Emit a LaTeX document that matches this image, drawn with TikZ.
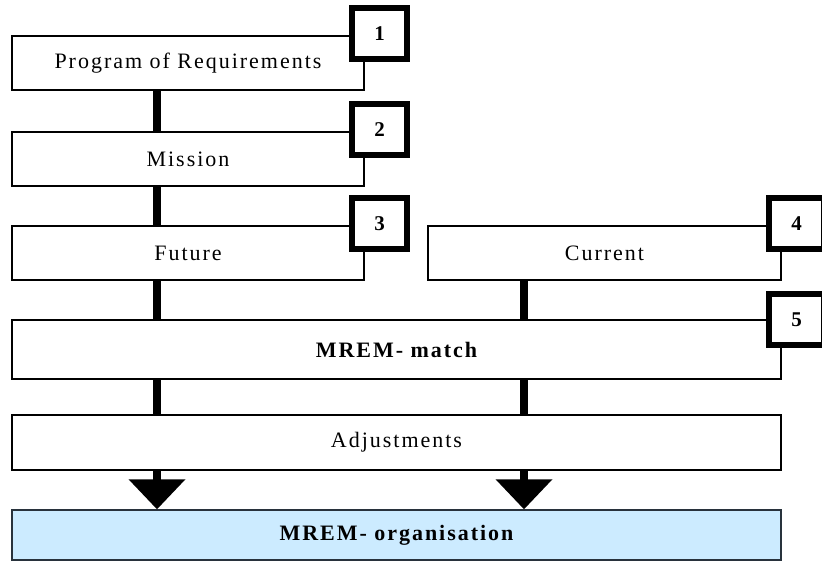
\documentclass[tikz,border=0pt]{standalone}
\usepackage{fontspec}
\setmainfont{Liberation Serif}
\newfontfamily\spaced[LetterSpace=9]{Liberation Serif}
\usetikzlibrary{calc}
\definecolor{orgfill}{RGB}{204,235,255}
\definecolor{orgline}{RGB}{40,50,60}
\begin{document}
\begin{tikzpicture}[x=1pt,y=-1pt,
  box/.style={draw=black, line width=1.5pt, fill=white, inner sep=0pt,
    minimum height=54pt, font=\spaced\fontsize{22}{26}\selectfont},
  boldbox/.style={box, font=\spaced\bfseries\fontsize{22}{26}\selectfont},
  numbox/.style={draw=black, line width=6pt, fill=white, inner sep=0pt,
    minimum width=55pt, minimum height=51pt, font=\bfseries\fontsize{21}{24}\selectfont},
  conn/.style={line width=8pt},
  ]
\path[use as bounding box] (0,0) rectangle (822,561);
\clip (0,0) rectangle (822,561);
\coordinate (xl) at (157,0);
\coordinate (xr) at (524,0);

\node[box, minimum width=352pt] (pr) at (188,63) {Program of Requirements};
\node[box, minimum width=352pt] (mis) at (188,159) {Mission};
\node[box, minimum width=352pt] (fut) at (188,253) {Future};
\node[box, minimum width=353pt] (cur) at (604.5,253) {Current};
\node[boldbox, minimum width=769pt, minimum height=59pt] (match) at (396.5,349.5) {MREM- match};
\node[box, minimum width=769pt, minimum height=55pt] (adj) at (396.5,442.5) {Adjustments};
\node[boldbox, minimum width=769pt, minimum height=50pt, fill=orgfill, draw=orgline] (org) at (396.5,535) {MREM- organisation};

\node[numbox] (n1) at (379.5,33.5) {1};
\node[numbox] (n2) at (379.5,129.5) {2};
\node[numbox] (n3) at (379.5,223.5) {3};
\node[numbox] (n4) at (796.5,223.5) {4};
\node[numbox] (n5) at (796.5,319.5) {5};

\draw[conn] (pr.south -| xl) -- (mis.north -| xl);
\draw[conn] (mis.south -| xl) -- (fut.north -| xl);
\draw[conn] (fut.south -| xl) -- (match.north -| xl);
\draw[conn] (cur.south -| xr) -- (match.north -| xr);
\draw[conn] (match.south -| xl) -- (adj.north -| xl);
\draw[conn] (match.south -| xr) -- (adj.north -| xr);

\draw[conn] (adj.south -| xl) -- ($(org.north -| xl)+(0,-29)$);
\fill ($(org.north -| xl)+(-28.5,-30)$) -- ($(org.north -| xl)+(28.5,-30)$) -- (org.north -| xl) -- cycle;
\draw[conn] (adj.south -| xr) -- ($(org.north -| xr)+(0,-29)$);
\fill ($(org.north -| xr)+(-28.5,-30)$) -- ($(org.north -| xr)+(28.5,-30)$) -- (org.north -| xr) -- cycle;
\end{tikzpicture}
\end{document}
